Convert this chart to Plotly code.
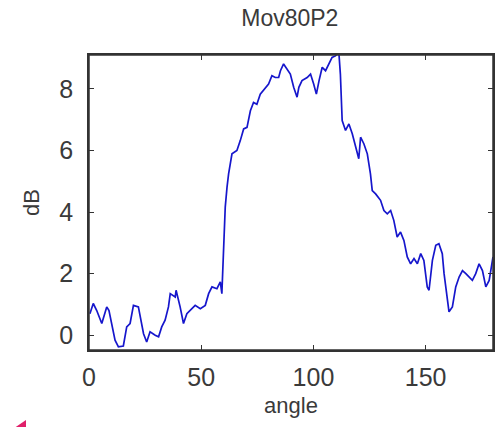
import plotly.graph_objects as go

angle = [0.4, 1.9, 3.4, 5.7, 7.9, 8.9, 11.6, 13.1, 15.3, 16.8, 18.3, 19.8, 22.0, 22.8,
         24.3, 25.7, 27.2, 29.5, 31.0, 32.4, 33.9, 35.4, 36.2, 38.4, 38.8, 40.6, 42.1,
         43.6, 45.8, 47.3, 49.6, 51.8, 53.3, 54.8, 57.0, 58.5, 59.2, 60.0, 60.7, 61.5,
         62.2, 63.7, 65.9, 67.4, 68.9, 70.4, 71.9, 73.3, 74.8, 76.3, 78.6, 80.0, 81.5,
         83.0, 84.5, 85.3, 86.7, 88.2, 89.7, 91.2, 92.7, 93.5, 94.9, 97.2, 98.7, 100.1,
         101.3, 102.5, 103.9, 105.4, 106.8, 108.3, 109.8, 111.3, 112.0, 112.8, 114.3,
         115.8, 117.3, 118.8, 120.2, 121.0, 122.5, 124.0, 125.4, 126.2, 127.7, 129.9,
         131.4, 132.9, 134.4, 135.8, 137.3, 138.8, 140.3, 141.8, 143.3, 144.8, 146.3,
         147.8, 149.2, 150.7, 151.5, 153.0, 154.5, 155.9, 157.4, 158.2, 159.7, 160.4,
         161.9, 163.4, 164.9, 166.4, 167.9, 169.3, 170.8, 172.3, 173.8, 175.3, 176.8,
         178.3, 179.8, 180.0]
db = [0.70, 1.03, 0.81, 0.38, 0.92, 0.80, -0.16, -0.38, -0.35, 0.27, 0.38, 0.97, 0.92,
      0.60, 0.05, -0.22, 0.11, 0.00, -0.05, 0.27, 0.49, 0.92, 1.35, 1.24, 1.46, 0.92,
      0.38, 0.70, 0.86, 0.97, 0.86, 0.97, 1.35, 1.57, 1.51, 1.73, 1.35, 2.65, 4.16,
      4.81, 5.24, 5.89, 6.00, 6.32, 6.70, 6.75, 7.29, 7.56, 7.50, 7.83, 8.05, 8.16,
      8.43, 8.37, 8.37, 8.59, 8.81, 8.64, 8.48, 8.05, 7.73, 8.05, 8.27, 8.37, 8.48,
      8.16, 7.83, 8.27, 8.70, 8.59, 8.81, 9.02, 9.07, 9.20, 8.48, 6.97, 6.65, 6.86,
      6.54, 6.10, 5.73, 6.43, 6.21, 5.89, 5.24, 4.70, 4.59, 4.38, 4.05, 3.94, 4.05,
      3.73, 3.19, 3.35, 3.08, 2.54, 2.32, 2.49, 2.32, 2.65, 2.43, 1.57, 1.46, 2.43,
      2.92, 2.97, 2.65, 2.00, 1.24, 0.76, 0.92, 1.57, 1.89, 2.10, 2.00, 1.89, 1.78,
      2.00, 2.32, 2.10, 1.57, 1.78, 2.43, 2.54]

x_ticks = [0, 50, 100, 150]
y_ticks = [0, 2, 4, 6, 8]

font_family = "Liberation Sans, Arial, sans-serif"
txt = "#3a3a3a"

fig = go.Figure()
fig.add_trace(go.Scatter(x=angle, y=db, mode="lines",
                         line=dict(color="#1616cc", width=1.7), showlegend=False))

axis_common = dict(showline=True, linecolor="#333333", linewidth=1.5, mirror="allticks",
                   ticks="inside", ticklen=5, tickcolor="#333333", showgrid=False,
                   zeroline=False, automargin=False,
                   tickfont=dict(size=25, color=txt, family=font_family))

fig.update_layout(
    width=498, height=427,
    margin=dict(l=89, r=5, t=55, b=77, autoexpand=False),
    paper_bgcolor="white", plot_bgcolor="white",
    title=dict(text="Mov80P2", x=0.582, xanchor="center", y=0.958, yanchor="middle",
               font=dict(size=23, color=txt, family=font_family)),
    xaxis=dict(range=[0, 180], tickvals=x_ticks, ticklabelstandoff=4,
               title=dict(text="angle", standoff=8, font=dict(size=22, color=txt, family=font_family)),
               **axis_common),
    yaxis=dict(range=[-0.48, 9.1], tickvals=y_ticks, ticklabelstandoff=9,
               title=dict(text="dB", standoff=14, font=dict(size=22, color=txt, family=font_family)),
               **axis_common),
    shapes=[
        dict(type="rect", xref="paper", yref="paper", x0=0, y0=0, x1=1, y1=1,
             line=dict(color="#333333", width=1.5), fillcolor="rgba(0,0,0,0)", layer="above"),
        dict(type="path", xref="paper", yref="paper",
             path="M -0.196 -0.275 L -0.156 -0.275 L -0.156 -0.237 Z",
             fillcolor="#e0206a", line=dict(width=0)),
    ],
)

fig.write_html("out.html", config={"responsive": False, "displayModeBar": False},
               post_script="document.body.style.margin='0';document.body.style.overflow='hidden';")
